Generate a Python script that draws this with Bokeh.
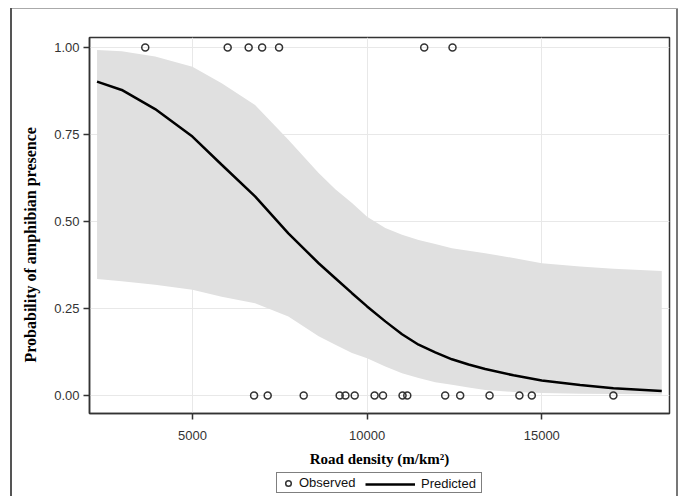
from bokeh.plotting import figure
from bokeh.layouts import column
from bokeh.models import (Range1d, FixedTicker, Legend, LegendItem, Title,
                          ColumnDataSource, NumeralTickFormatter)
from bokeh.embed import file_html
from bokeh.resources import INLINE

# ---- data ----
road_density = [2270, 2977, 3933, 5000, 5838, 6793, 7746, 8613, 9091, 9568, 10000,
                10521, 11000, 11474, 11951, 12428, 12905, 13381, 14191, 15000,
                16098, 17051, 18435]
predicted = [0.902, 0.878, 0.823, 0.744, 0.663, 0.572, 0.466, 0.380, 0.337, 0.294, 0.256,
             0.213, 0.176, 0.146, 0.124, 0.104, 0.089, 0.076, 0.058, 0.043,
             0.030, 0.021, 0.013]
lower_cl = [0.335, 0.328, 0.318, 0.304, 0.284, 0.265, 0.227, 0.170, 0.146, 0.122, 0.107,
            0.083, 0.064, 0.050, 0.038, 0.031, 0.023, 0.016, 0.010, 0.007,
            0.005, 0.004, 0.003]
upper_cl = [0.993, 0.989, 0.974, 0.945, 0.897, 0.835, 0.735, 0.639, 0.593, 0.553, 0.514,
            0.481, 0.462, 0.447, 0.435, 0.423, 0.416, 0.409, 0.395, 0.380,
            0.371, 0.364, 0.358]

present_x = [3650, 6010, 6610, 6995, 7480, 11635, 12445]
present_y = [1, 1, 1, 1, 1, 1, 1]
absent_x = [6765, 7155, 8185, 9215, 9380, 9645, 10215, 10455, 11015, 11150,
            12235, 12665, 13505, 14360, 14715, 17050]
absent_y = [0, 0, 0, 0, 0, 0, 0, 0, 0, 0, 0, 0, 0, 0, 0, 0]

x_ticks = [5000, 10000, 15000]
y_ticks = [0, 0.25, 0.5, 0.75, 1.0]

x_title = "Road density (m/km\u00b2)"
y_title = "Probability of amphibian presence"
legend_labels = ["Observed", "Predicted"]

OBS_STYLE = dict(marker="circle", size=7, fill_alpha=0, line_color="#333333", line_width=1.5)
LINE_STYLE = dict(line_color="black", line_width=2.5)

# ---- main figure ----
p = figure(width=686, height=470, output_backend="svg", toolbar_location=None,
           x_range=Range1d(2054, 18656), y_range=Range1d(-0.0517, 1.0287),
           min_border_left=89, min_border_right=17, min_border_top=37,
           min_border_bottom=57)
p.border_fill_alpha = 0
p.background_fill_color = "white"
p.outline_line_color = "#333333"
p.outline_line_width = 1.5
p.styles = {
    "background-color": "white",
    "box-shadow": "inset 10px 0 0 0 white, inset 0 8px 0 0 white, "
                  "inset -8px 0 0 0 white, "
                  "inset 12px 0 0 0 #555555, inset 0 9px 0 0 #aaaaaa, "
                  "inset -10px 0 0 0 #777777",
}

curve_src = ColumnDataSource(dict(x=road_density, y=predicted, lo=lower_cl, hi=upper_cl))
obs_src = ColumnDataSource(dict(x=present_x + absent_x, y=present_y + absent_y))

p.varea(x="x", y1="lo", y2="hi", source=curve_src, fill_color="#e0e0e0")
p.line(x="x", y="y", source=curve_src, **LINE_STYLE)
p.scatter(x="x", y="y", source=obs_src, **OBS_STYLE)

# grids
p.xgrid.ticker = FixedTicker(ticks=x_ticks)
p.ygrid.ticker = FixedTicker(ticks=y_ticks)
for g in (p.xgrid, p.ygrid):
    g.grid_line_color = "#e8e8e8"
    g.grid_line_width = 1

# axes
p.xaxis.ticker = FixedTicker(ticks=x_ticks)
p.yaxis.ticker = FixedTicker(ticks=y_ticks)
p.yaxis.formatter = NumeralTickFormatter(format="0.00")
for ax in (p.xaxis, p.yaxis):
    ax.axis_line_color = "#333333"
    ax.axis_line_width = 1.5
    ax.major_tick_line_color = "#333333"
    ax.major_tick_line_width = 1.5
    ax.major_tick_out = 6
    ax.major_tick_in = 0
    ax.minor_tick_line_color = None
    ax.major_label_text_font = "Liberation Sans"
    ax.major_label_text_font_size = "13px"
    ax.major_label_text_color = "#333333"
p.xaxis.major_label_standoff = 11
p.yaxis.major_label_standoff = 4

p.xaxis.axis_label = x_title
p.xaxis.axis_label_text_font = "Liberation Serif"
p.xaxis.axis_label_text_font_style = "bold"
p.xaxis.axis_label_text_font_size = "15px"
p.xaxis.axis_label_text_color = "black"
p.xaxis.axis_label_standoff = 8

ytitle = Title(text=y_title, align="left", offset=51, standoff=26,
               text_font="Liberation Serif", text_font_style="bold",
               text_font_size="16px", text_color="black")
p.add_layout(ytitle, "left")

# ---- legend strip below the chart (its frame lines up with the chart's frame) ----
pl = figure(width=686, height=26, output_backend="svg", toolbar_location=None,
            x_axis_type=None, y_axis_type=None, min_border=0,
            x_range=Range1d(0, 1), y_range=Range1d(0, 1))
pl.grid.visible = False
pl.outline_line_color = None
pl.border_fill_alpha = 0
pl.background_fill_alpha = 0
pl.styles = {
    "background-color": "white",
    "box-shadow": "inset 10px 0 0 0 white, inset -8px 0 0 0 white, "
                  "inset 12px 0 0 0 #555555, inset -10px 0 0 0 #777777",
}
# same data as the chart; it lies outside this strip's ranges, so only the
# legend samples are seen here
leg_obs = pl.scatter(x="x", y="y", source=obs_src, **OBS_STYLE)
leg_pred = pl.line(x="x", y="y", source=curve_src, **LINE_STYLE)

common = dict(orientation="horizontal", glyph_height=14, label_height=14,
              padding=2, margin=0, label_text_font="Liberation Sans",
              label_text_font_size="13px", label_text_color="#111111")
leg_a = Legend(items=[LegendItem(label=legend_labels[0], renderers=[leg_obs])],
               location=(187, 3), glyph_width=18, label_standoff=2,
               label_width=180, border_line_color="black", border_line_width=1,
               background_fill_color="white", background_fill_alpha=1, **common)
leg_b = Legend(items=[LegendItem(label=legend_labels[1], renderers=[leg_pred])],
               location=(274, 3), glyph_width=50, label_standoff=6,
               border_line_alpha=0, background_fill_alpha=0, **common)
pl.add_layout(leg_a)
pl.add_layout(leg_b)

layout = column(p, pl, spacing=0)
open("out.html", "w").write(file_html(layout, INLINE))
